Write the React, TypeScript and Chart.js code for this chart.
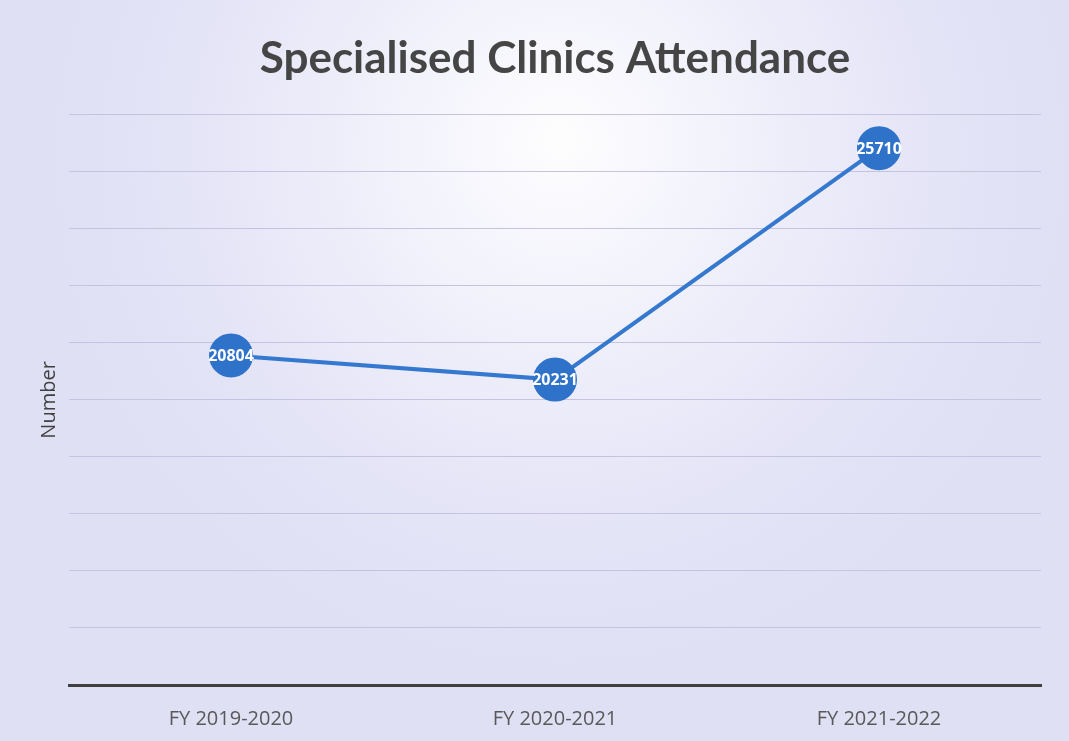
import React, { useEffect, useRef } from "react";
import { Chart, registerables } from "chart.js";

Chart.register(...registerables);

const categories: string[] = ["FY 2019-2020", "FY 2020-2021", "FY 2021-2022"];
const attendance: number[] = [20804, 20231, 25710];
const yMin = 13000;
const yMax = 26500;
const yStep = 1350;

const LINE_BLUE = "#3478cf";
const POINT_BLUE = "#2f72c9";

// Paper-like lavender backdrop with a lighter area behind the title
const backdrop = {
  id: "backdrop",
  beforeDraw(chart: any) {
    const { ctx, width, height } = chart;
    ctx.save();
    ctx.fillStyle = "#e0e0f5";
    ctx.fillRect(0, 0, width, height);
    const g = ctx.createRadialGradient(560, 140, 10, 560, 160, 560);
    g.addColorStop(0, "rgba(255,255,255,0.95)");
    g.addColorStop(0.35, "rgba(250,250,255,0.6)");
    g.addColorStop(0.75, "rgba(240,240,252,0.15)");
    g.addColorStop(1, "rgba(225,225,245,0)");
    ctx.fillStyle = g;
    ctx.fillRect(0, 0, width, height);
    ctx.restore();
  },
};

// Value labels centred on each marker
const valueLabels = {
  id: "valueLabels",
  afterDatasetsDraw(chart: any) {
    const { ctx } = chart;
    const meta = chart.getDatasetMeta(0);
    ctx.save();
    ctx.font = "bold 16px 'Open Sans', sans-serif";
    ctx.fillStyle = "#ffffff";
    ctx.textAlign = "center";
    ctx.textBaseline = "middle";
    meta.data.forEach((pt: any, i: number) => {
      ctx.fillText(String(attendance[i]), pt.x, pt.y + 1);
    });
    ctx.restore();
  },
};

export default function App() {
  const canvasRef = useRef<HTMLCanvasElement | null>(null);

  useEffect(() => {
    document.body.style.margin = "0";
    const canvas = canvasRef.current;
    if (!canvas) return;
    const chart = new Chart(canvas, {
      type: "line",
      data: {
        labels: categories,
        datasets: [
          {
            label: "Attendance",
            data: attendance,
            borderColor: LINE_BLUE,
            borderWidth: 4,
            backgroundColor: POINT_BLUE,
            pointBackgroundColor: POINT_BLUE,
            pointBorderColor: POINT_BLUE,
            pointRadius: 20,
            pointHoverRadius: 20,
            tension: 0,
          },
        ],
      },
      options: {
        responsive: false,
        animation: false,
        layout: { padding: { top: 0, right: 28, bottom: 0, left: 0 } },
        plugins: {
          legend: { display: false },
          tooltip: { enabled: false },
          title: {
            display: true,
            fullSize: false,
            text: "Specialised Clinics Attendance",
            color: "#454545",
            font: { family: "Lato, 'Open Sans', sans-serif", size: 44, weight: "bold" },
            padding: { top: 32, bottom: 30 },
          },
        },
        scales: {
          x: {
            type: "category",
            offset: true,
            grid: { display: false, drawTicks: false },
            border: { display: true, color: "#404040", width: 3 },
            ticks: {
              color: "#595959",
              padding: 22,
              font: { family: "'Open Sans', sans-serif", size: 20 },
            },
            afterFit(scale: any) {
              scale.height = 56;
            },
          },
          y: {
            min: yMin,
            max: yMax,
            ticks: { display: false, stepSize: yStep },
            grid: { color: "#c4c4e0", lineWidth: 1, drawTicks: false },
            border: { display: false },
            title: {
              display: true,
              text: "Number",
              color: "#404040",
              font: { family: "'Open Sans', sans-serif", size: 20 },
              padding: { top: 37, bottom: 0 },
            },
            afterFit(scale: any) {
              scale.width = 69;
            },
          },
        },
      },
      plugins: [backdrop, valueLabels],
    });
    return () => chart.destroy();
  }, []);

  return (
    <div style={{ width: 1069, height: 741 }}>
      <canvas ref={canvasRef} width={1069} height={741} style={{ display: "block" }} />
    </div>
  );
}
